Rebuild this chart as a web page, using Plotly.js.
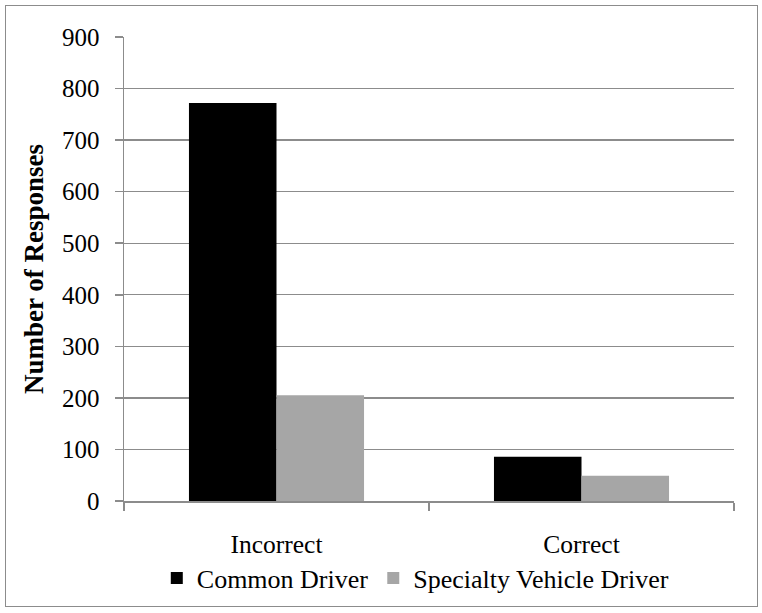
<!DOCTYPE html>
<html>
<head>
<meta charset="utf-8">
<script src="https://cdn.plot.ly/plotly-3.0.1.min.js"></script>
<style>
  html, body { margin: 0; padding: 0; background: #fff; }
  #wrap { position: relative; width: 762px; height: 613px; }
  #chart { position: absolute; left: 0; top: 0; width: 762px; height: 613px; }
  #frame { position: absolute; left: 5px; top: 5px; width: 751px; height: 600px; border: 1.5px solid #8c8c8c; pointer-events: none; }
</style>
</head>
<body>
<div id="wrap">
  <div id="chart"></div>
  <div id="frame"></div>
</div>
<script>
const categories = ["Incorrect", "Correct"];
const commonDriver = [772, 86];
const specialtyDriver = [205, 49];
const seriesNames = ["Common Driver", "Specialty Vehicle Driver"];
const yTickVals = [0, 100, 200, 300, 400, 500, 600, 700, 800, 900];

const font = "'Liberation Serif', 'Times New Roman', serif";

const traces = [
  { type: "bar", name: seriesNames[0], x: categories, y: commonDriver,
    marker: { color: "#000000" } },
  { type: "bar", name: seriesNames[1], x: categories, y: specialtyDriver,
    marker: { color: "#a6a6a6" } }
];

const layout = {
  width: 762, height: 613,
  margin: { l: 124, r: 28, t: 37, b: 112, autoexpand: false },
  paper_bgcolor: "#ffffff", plot_bgcolor: "#ffffff",
  font: { family: font, size: 25, color: "#000000" },
  barmode: "group",
  bargap: 0.426,
  bargroupgap: 0,
  showlegend: true,
  legend: { orientation: "h", xref: "container", yref: "container",
            x: 0.545, xanchor: "center", y: 0.057, yanchor: "middle",
            font: { family: font, size: 26 }, itemwidth: 30, traceorder: "normal" },
  xaxis: {
    type: "category", automargin: false,
    showline: true, linecolor: "#8c8c8c", linewidth: 1.5,
    ticks: "outside", tickson: "boundaries", ticklen: 8, tickcolor: "#8c8c8c", tickwidth: 1.5,
    showgrid: false, zeroline: false,
    tickfont: { family: font, size: 25.5 },
    ticklabelstandoff: 20
  },
  yaxis: {
    range: [0, 900], automargin: false,
    tickvals: yTickVals,
    showline: true, linecolor: "#8c8c8c", linewidth: 1.5,
    ticks: "outside", ticklen: 8, tickcolor: "#8c8c8c", tickwidth: 1.5,
    showgrid: true, gridcolor: "#8c8c8c", gridwidth: 1.3,
    zeroline: false,
    tickfont: { family: font, size: 25 },
    ticklabelstandoff: 10,
    title: { text: "<b>Number of Responses</b>", font: { family: font, size: 27 }, standoff: 10 }
  }
};

Plotly.newPlot("chart", traces, layout, { displayModeBar: false, staticPlot: true });
</script>
</body>
</html>
